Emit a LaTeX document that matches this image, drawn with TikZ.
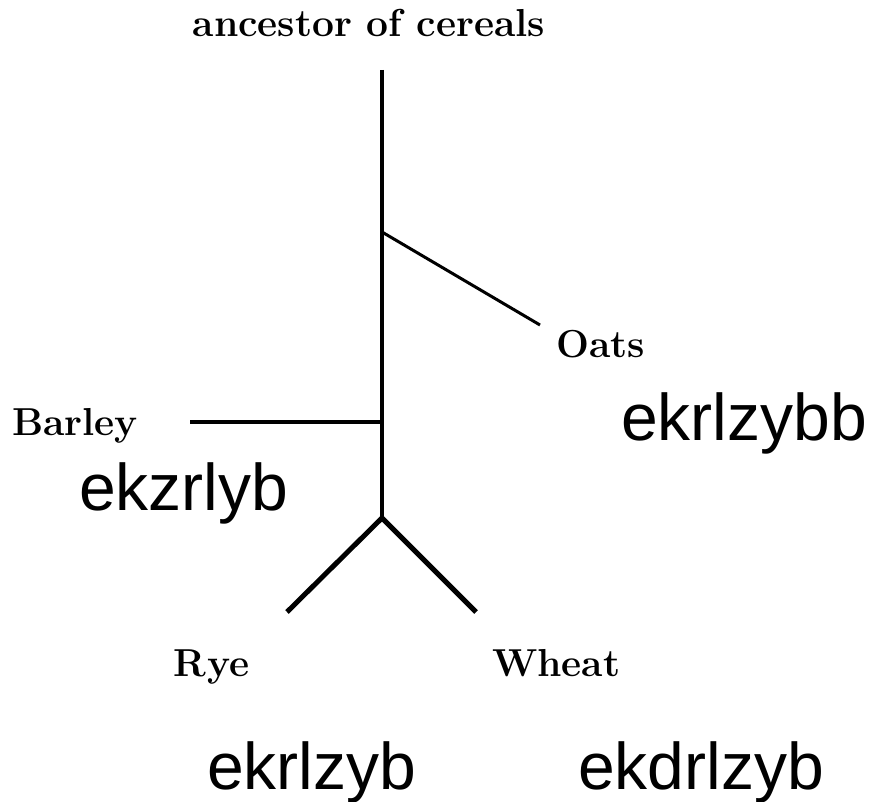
\documentclass[tikz,border=0pt]{standalone}
\usepackage{fontspec}
\newfontfamily\labelsans{Liberation Sans}
\usetikzlibrary{positioning}

\begin{document}
\begin{tikzpicture}[
        x=1pt, y=-1pt,
        taxon/.style={inner sep=0pt, anchor=base west, font=\fontsize{39}{43}\selectfont\bfseries},
        code/.style={inner sep=0pt, anchor=base west, font=\fontsize{66}{70}\selectfont\labelsans},
        branch/.style={line width=4pt, line cap=butt},
        twig/.style={line width=3pt},
        fork/.style={line width=5pt, line join=miter}
    ]
        \useasboundingbox (0,0) rectangle (879,802);

        % Nodes
        \node (root) [taxon, anchor=base] at (369,37) {ancestor of cereals};
        \node (oats) [taxon] at (556,358) {Oats};
        \node (barley) [taxon] at (12,436) {Barley};
        \node (rye) [taxon] at (173,676) {R\kern2pt ye};
        \node (wheat) [taxon] at (492,676) {Wheat};

        \node (oatscode) [code] at (621,441) {ekrlzybb};
        \node (barleycode) [code] at (79,511) {ekzrlyb};
        \node (ryecode) [code] at (207,789) {ekrlzyb};
        \node (wheatcode) [code] at (578,789) {ekdrlzyb};

        % Branch points
        \coordinate (stem) at (382,70);
        \coordinate (oatsfork) at (382,232);
        \coordinate (oatstip) at (540,325);
        \coordinate (barleyfork) at (382,422);
        \coordinate (barleytip) at (190,422);
        \coordinate (split) at (382,518);
        \coordinate (ryetip) at (287,612);
        \coordinate (wheattip) at (476,612);

        % Lines
        \draw [branch] (stem) -- (split);
        \draw [twig] (oatsfork) -- (oatstip);
        \draw [branch] (barleytip) -- (barleyfork);
        \draw [fork] (ryetip) -- (split) -- (wheattip);
    \end{tikzpicture}
\end{document}
